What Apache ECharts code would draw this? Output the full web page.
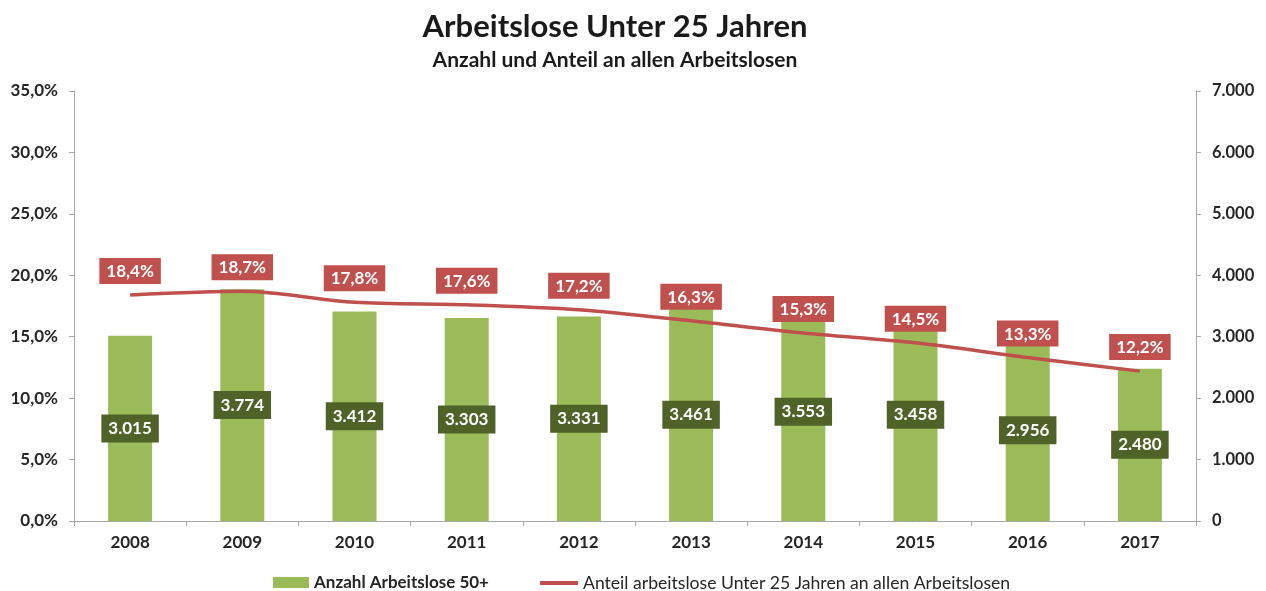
<!DOCTYPE html>
<html>
<head>
<meta charset="utf-8">
<script src="https://cdn.jsdelivr.net/npm/echarts@6/dist/echarts.min.js"></script>
<style>html,body{margin:0;padding:0;background:#fff;}#c{width:1266px;height:591px;}</style>
</head>
<body>
<div id="c"></div>
<script>
var categories = ['2008','2009','2010','2011','2012','2013','2014','2015','2016','2017'];
var anzahl = [3015, 3774, 3412, 3303, 3331, 3461, 3553, 3458, 2956, 2480];
var anteil = [18.4, 18.7, 17.8, 17.6, 17.2, 16.3, 15.3, 14.5, 13.3, 12.2];
var barName = 'Anzahl Arbeitslose 50+';
var lineName = 'Anteil arbeitslose Unter 25 Jahren an allen Arbeitslosen';
var titleText = 'Arbeitslose Unter 25 Jahren';
var subtitleText = 'Anzahl und Anteil an allen Arbeitslosen';

var FONT = 'Lato';
var RED = '#C0504D';
function pct(v){ return v.toFixed(1).replace('.', ',') + '%'; }
function thousands(v){ return String(Math.round(v)).replace(/\B(?=(\d{3})+(?!\d))/g, '.'); }

var chart = echarts.init(document.getElementById('c'), null, {renderer:'canvas'});
chart.setOption({
  animation: false,
  backgroundColor: '#fff',
  textStyle: {fontFamily: FONT},
  title: {
    text: titleText,
    subtext: subtitleText,
    left: 610,
    textAlign: 'center',
    top: 6,
    itemGap: 8,
    textStyle: {fontFamily: FONT, fontSize: 31, fontWeight: 'bold', color: '#1a1a1a'},
    subtextStyle: {fontFamily: FONT, fontSize: 21, fontWeight: 'bold', color: '#1a1a1a'}
  },
  legend: [
    {
      top: 574, left: 273, padding: 0,
      itemWidth: 36, itemHeight: 11,
      textStyle: {fontFamily: FONT, fontSize: 17, fontWeight: 'bold', color: '#262626'},
      data: [{name: barName, icon: 'rect'}]
    },
    {
      top: 574, left: 540, padding: 0,
      itemWidth: 38, itemHeight: 4, itemGap: 2,
      textStyle: {fontFamily: FONT, fontSize: 17.6, fontWeight: 'normal', color: '#262626'},
      data: [{name: lineName, icon: 'rect', itemStyle: {color: RED}}]
    }
  ],
  grid: {left: 74, right: 70, top: 91, bottom: 70, containLabel: false},
  xAxis: {
    type: 'category',
    data: categories,
    boundaryGap: true,
    axisLine: {lineStyle: {color: '#A6A6A6', width: 1}},
    axisTick: {show: true, length: 5, lineStyle: {color: '#A6A6A6'}},
    axisLabel: {fontFamily: FONT, fontSize: 17, fontWeight: 'bold', color: '#262626', margin: 13}
  },
  yAxis: [
    {
      type: 'value', min: 0, max: 35, interval: 5, position: 'left',
      axisLine: {show: true, lineStyle: {color: '#A6A6A6'}},
      axisTick: {show: true, length: 5, lineStyle: {color: '#A6A6A6'}},
      splitLine: {show: false},
      axisLabel: {fontFamily: FONT, fontSize: 17, fontWeight: 'bold', color: '#262626', margin: 16, formatter: pct}
    },
    {
      type: 'value', min: 0, max: 7000, interval: 1000, position: 'right',
      axisLine: {show: true, lineStyle: {color: '#A6A6A6'}},
      axisTick: {show: true, length: 5, lineStyle: {color: '#A6A6A6'}},
      splitLine: {show: false},
      axisLabel: {fontFamily: FONT, fontSize: 16.5, fontWeight: 'bold', color: '#262626', margin: 16, formatter: thousands}
    }
  ],
  series: [
    {
      name: barName,
      type: 'bar',
      yAxisIndex: 1,
      data: anzahl,
      barWidth: 44,
      itemStyle: {color: '#9BBB59'},
      label: {
        show: true, position: 'inside',
        formatter: function(p){ return thousands(p.value); },
        fontFamily: FONT, fontSize: 17, fontWeight: 'bold', color: '#fff',
        backgroundColor: '#4F6228', padding: [6, 7, 5, 7]
      },
      z: 2
    },
    {
      name: lineName,
      type: 'line',
      yAxisIndex: 0,
      data: anteil,
      smooth: 0.3,
      symbol: 'circle',
      symbolSize: 0.1,
      showSymbol: true,
      lineStyle: {color: RED, width: 3.5},
      itemStyle: {color: RED},
      label: {
        show: true, position: 'top', distance: 11,
        formatter: function(p){ return pct(p.value); },
        fontFamily: FONT, fontSize: 17, fontWeight: 'bold', color: '#fff',
        backgroundColor: RED, padding: [5, 7, 4, 7]
      },
      z: 3
    }
  ]
});
</script>
</body>
</html>
